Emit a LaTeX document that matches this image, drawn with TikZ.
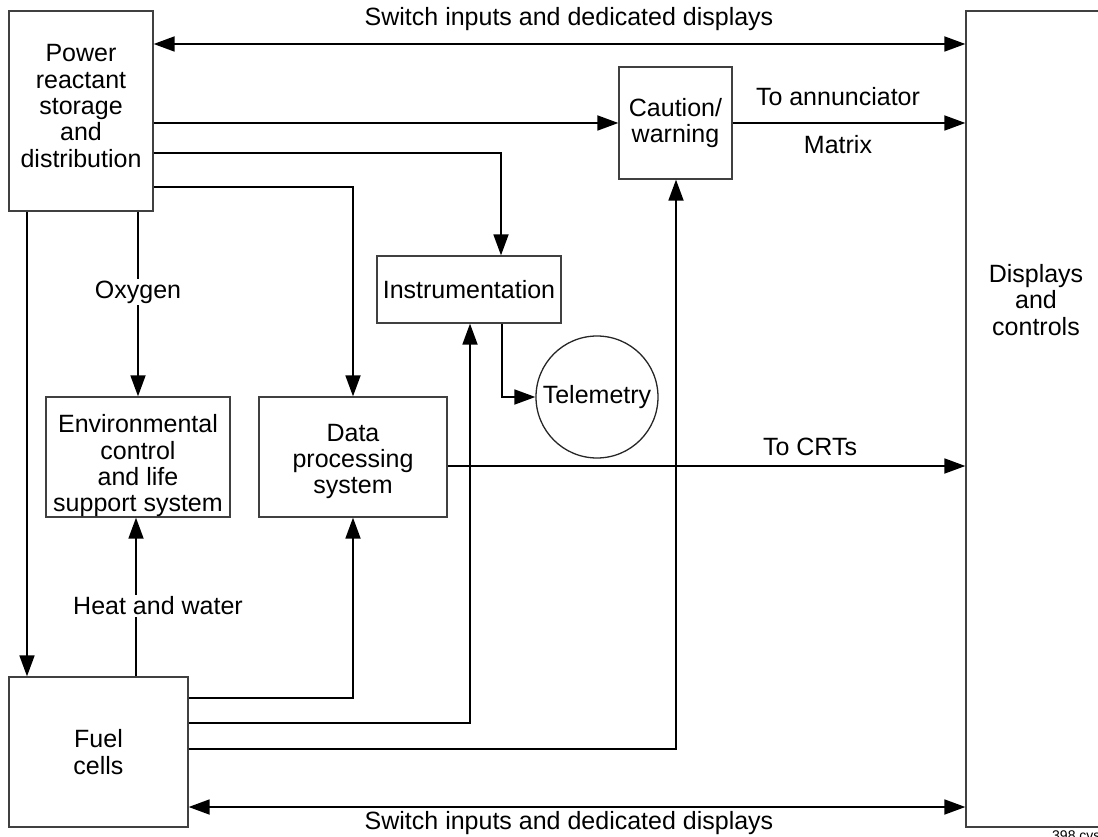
\documentclass[tikz,border=0pt]{standalone}
\usepackage{fontspec}
\setmainfont{Liberation Sans}
\usetikzlibrary{arrows.meta}
\begin{document}
\begin{tikzpicture}[x=1pt,y=-1pt,
  every node/.style={font=\fontsize{25}{26.3}\selectfont, align=center, inner sep=1pt},
  box/.style={draw=black!75, line width=1.3pt, rectangle, inner sep=0pt},
  circ/.style={draw=black!85, line width=1.3pt, circle, inner sep=0pt},
  conn/.style={line width=1.8pt},
  arr/.style={conn, -{Triangle[length=21pt,width=15pt]}},
  darr/.style={conn, {Triangle[length=21pt,width=15pt]}-{Triangle[length=21pt,width=15pt]}},
  lbl/.style={fill=white, inner sep=2pt}]
\useasboundingbox (0,0) rectangle (1098,837);
% boxes
\node[box, minimum width=144pt, minimum height=200pt] (pw) at (81,111) {Power\\reactant\\storage\\and\\distribution\\[-16pt]};
\node[box, minimum width=150pt, minimum height=816pt] (disp) at (1041,419) {};
\node (dtxt) at (1036,300) {Displays\\and\\controls};
\node[box, minimum width=113pt, minimum height=112pt] (cw) at (675.5,123) {Caution/\\warning};
\node[box, minimum width=184pt, minimum height=67pt] (inst) at (469,289.5) {Instrumentation};
\node[circ, minimum size=122pt] (tel) at (597,397) {Telemetry};
\node[box, minimum width=184pt, minimum height=120pt] (ec) at (138,457) {\rule{0pt}{36pt}Environmental\\control\\and life\\support system};
\node[box, minimum width=188pt, minimum height=120pt] (dp) at (353,457) {\rule{0pt}{26pt}Data\\processing\\system};
\node[box, minimum width=179pt, minimum height=150pt] (fc) at (98.5,752) {Fuel\\cells};
% connectors
\draw[darr] (pw.east |- 0,44) -- (disp.west |- 0,44);
\node (top) at (569,19) {Switch inputs and dedicated displays};
\draw[arr] (pw.east |- cw.west) -- (cw.west);
\draw[arr] (cw.east) -- (disp.west |- cw.east);
\node (ann) at (838,97) {To annunciator};
\node (mat) at (838,145) {Matrix};
\draw[arr] (pw.east |- 0,153) -| ([xshift=32pt]inst.north);
\draw[arr] (pw.east |- 0,187) -| (dp.north);
\draw[arr] (pw.south -| 27,0) -- (fc.north -| 27,0);
\draw[arr] (pw.south -| ec.north) -- (ec.north);
\node[lbl] (oxy) at (138,292) {Oxygen};
\draw[arr] (fc.north -| 136,0) -- (ec.south -| 136,0);
\node[lbl] (hw) at (158,606) {Heat and water};
\draw[arr] (fc.east |- 0,698) -| (dp.south);
\draw[arr] (fc.east |- 0,723) -| (inst.south -| 470,0);
\draw[arr] (fc.east |- 0,749) -| (cw.south -| 676,0);
\draw[arr] (inst.south -| 502,0) |- (tel.west);
\draw[arr] (dp.east |- 0,466) -- (disp.west |- 0,466);
\node (crt) at (810,447) {To CRTs};
\draw[darr] (fc.east |- 0,807) -- (disp.west |- 0,807);
\node (bot) at (569,823) {Switch inputs and dedicated displays};
\node[anchor=north west, font=\fontsize{14}{16}\selectfont, inner sep=0pt] (fig) at (1052,831) {398.cvs};
\end{tikzpicture}
\end{document}
